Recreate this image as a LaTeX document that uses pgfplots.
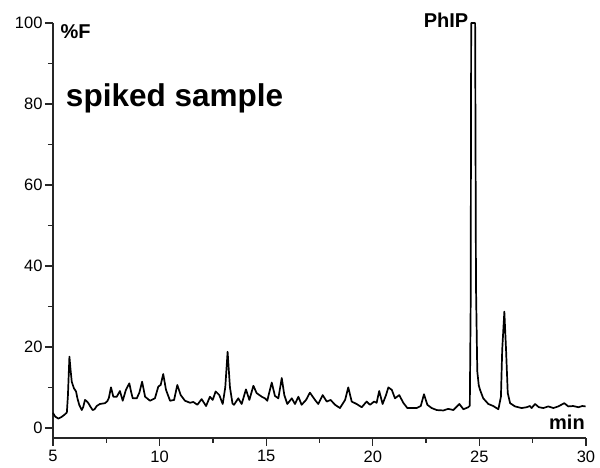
\documentclass[border=0pt]{standalone}
\usepackage{fontspec}
\setmainfont{Liberation Sans}
\usepackage{pgfplots}
\pgfplotsset{compat=1.18}
\begin{document}
\begin{tikzpicture}[x=1pt,y=1pt]
\path[use as bounding box] (-53,-30) rectangle (547,438);
\begin{axis}[
  at={(0,0)}, anchor=south west,
  scale only axis, width=533pt, height=415pt,
  xmin=5, xmax=30, ymin=-2.5, ymax=100,
  axis x line*=bottom, axis y line*=left,
  axis line style={-, line width=1.3pt, black!85},
  xtick={5,10,15,20,25,30}, ytick={0,20,40,60,80,100},
  minor x tick num=1, minor y tick num=1,
  tick align=outside,
  major tick length=8pt, minor tick length=5pt,
  every tick/.style={line width=1.3pt, black!85},
  tick label style={font=\fontsize{16.5}{18}\selectfont},
  /pgf/number format/assume math mode=true,
  yticklabel style={xshift=1pt},
  xticklabel style={yshift=-1pt},
  clip=false,
]
\addplot[black, line width=1.7pt, line join=round] coordinates {
(5.00,3.7) (5.10,2.8) (5.25,2.3) (5.40,2.7) (5.55,3.3) (5.65,3.8) (5.70,8) (5.77,17.6) (5.83,14) (5.88,11.4)
(5.98,9.8) (6.08,9.0) (6.15,7.2) (6.23,5.7) (6.35,4.4) (6.42,5.2) (6.50,6.9) (6.58,6.6) (6.66,6.1) (6.76,5.2)
(6.86,4.4) (6.95,4.6) (7.05,5.4) (7.20,5.9) (7.44,6.1) (7.55,6.6) (7.62,7.4) (7.72,10.0) (7.83,7.7) (7.99,7.7)
(8.14,9.1) (8.27,6.7) (8.42,9.4) (8.58,11.0) (8.66,9.0) (8.74,7.3) (8.93,7.3) (9.05,8.7) (9.18,11.4) (9.32,7.7)
(9.55,6.7) (9.78,7.3) (9.94,10.2) (10.05,10.6) (10.17,13.3) (10.30,9.4) (10.49,6.7) (10.68,6.9) (10.83,10.6) (10.99,8.1)
(11.19,6.7) (11.43,6.2) (11.58,6.4) (11.77,5.7) (11.97,7.1) (12.18,5.4) (12.36,7.7) (12.49,6.9) (12.63,9.0) (12.80,8.1)
(12.96,5.9) (13.08,10) (13.19,18.8) (13.30,10) (13.42,6.0) (13.49,5.7) (13.69,7.3) (13.85,5.9) (14.05,9.5) (14.21,6.9)
(14.40,10.4) (14.55,8.6) (14.79,7.7) (14.94,7.3) (15.05,6.7) (15.26,11.2) (15.41,7.9) (15.57,7.3) (15.73,12.3) (15.85,8.1)
(15.99,5.9) (16.20,7.3) (16.35,5.9) (16.51,7.7) (16.66,5.7) (16.87,6.9) (17.05,8.7) (17.29,6.9) (17.44,5.9) (17.65,8.1)
(17.84,6.5) (18.02,6.9) (18.23,5.7) (18.46,4.9) (18.70,6.9) (18.85,10.0) (19.01,6.5) (19.24,5.9) (19.48,5.1) (19.71,6.5)
(19.87,5.7) (20.06,6.5) (20.18,6.2) (20.30,9.1) (20.46,5.9) (20.62,8.1) (20.73,10.0) (20.89,9.4) (21.04,7.3) (21.24,8.1)
(21.43,6.2) (21.62,4.9) (21.90,4.9) (22.06,4.9) (22.25,5.4) (22.40,8.3) (22.56,5.7) (22.76,4.9) (23.00,4.4) (23.31,4.3)
(23.54,4.7) (23.78,4.4) (24.06,5.9) (24.25,4.6) (24.48,5.1) (24.55,5.5) (24.59,30) (24.615,100) (24.80,100) (24.84,35)
(24.90,14) (24.97,10.5) (25.03,9.4) (25.18,7.3) (25.42,5.9) (25.65,5.4) (25.89,4.6) (26.01,7.7) (26.07,19.3) (26.17,28.7)
(26.25,19.3) (26.33,8.6) (26.44,6.1) (26.67,5.3) (26.98,4.9) (27.22,5.1) (27.37,5.4) (27.45,4.9) (27.61,5.9) (27.79,5.1)
(28.00,4.9) (28.23,5.3) (28.47,4.9) (28.70,5.3) (28.98,6.1) (29.17,5.3) (29.40,5.4) (29.64,5.1) (29.83,5.4) (29.98,5.3)
};
\node[anchor=base west, inner sep=0pt, font=\bfseries\fontsize{20}{22}\selectfont] at (axis cs:5.35,96.2) {\%F};
\node[anchor=base west, inner sep=0pt, font=\bfseries\fontsize{31.5}{34}\selectfont] at (axis cs:5.60,79.3) {spiked sample};
\node[anchor=base east, inner sep=0pt, font=\bfseries\fontsize{20}{22}\selectfont] at (axis cs:24.49,98.8) {PhIP};
\node[anchor=base east, inner sep=0pt, font=\bfseries\fontsize{20}{22}\selectfont] at (axis cs:29.95,-0.5) {min};
\end{axis}
\end{tikzpicture}
\end{document}
